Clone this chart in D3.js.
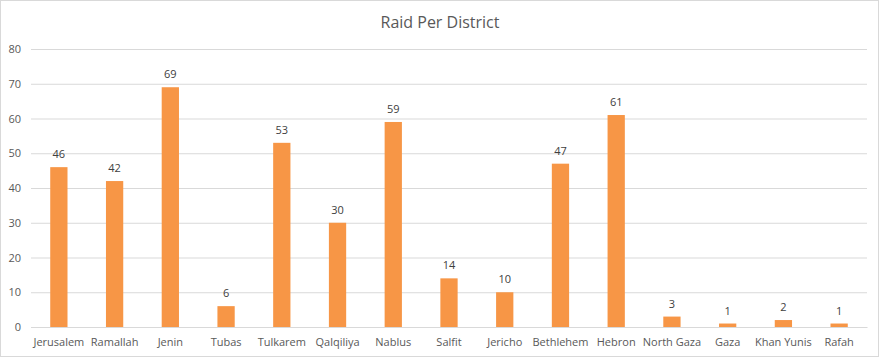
<!DOCTYPE html>
<html><head><meta charset="utf-8">
<script src="https://cdn.jsdelivr.net/npm/d3@7"></script>
<style>body{margin:0;background:#fff;}svg{display:block;}</style>
</head><body>
<script>
const categories = ["Jerusalem","Ramallah","Jenin","Tubas","Tulkarem","Qalqiliya","Nablus","Salfit","Jericho","Bethlehem","Hebron","North Gaza","Gaza","Khan Yunis","Rafah"];
const values = [46,42,69,6,53,30,59,14,10,47,61,3,1,2,1];
const yTicks = [0,10,20,30,40,50,60,70,80];
const title = "Raid Per District";

const W = 881, H = 359;
const font = "'Open Sans', 'Noto Sans', sans-serif";
const svg = d3.select("body").append("svg").attr("width", W).attr("height", H);
svg.append("rect").attr("x",0.5).attr("y",0.5).attr("width",W-3).attr("height",H-3)
  .attr("fill","#fff").attr("stroke","#d9d9d9");

const x = d3.scaleBand().domain(categories).range([31, 867]).paddingInner(0.69).paddingOuter(0.345);
const y = d3.scaleLinear().domain([0, 80]).range([327, 49]);

svg.append("text").attr("x", 440).attr("y", 27.5).attr("text-anchor","middle")
  .attr("font-family", font).attr("font-size", 16).attr("fill","#595959").text(title);

const yAxis = d3.axisLeft(y).tickValues(yTicks).tickSize(-(867-31)).tickPadding(10);
const gy = svg.append("g").attr("transform","translate(31,0)").call(yAxis);
gy.select(".domain").remove();
gy.selectAll(".tick line").attr("stroke","#d9d9d9");
gy.selectAll(".tick text").attr("font-family", font).attr("font-size", 11).attr("fill","#595959");

const xAxis = d3.axisBottom(x).tickSize(0).tickPadding(11);
const gx = svg.append("g").attr("transform","translate(0,327)").call(xAxis);
gx.select(".domain").attr("stroke","#d9d9d9");
gx.selectAll(".tick text").attr("font-family", font).attr("font-size", 11).attr("fill","#595959");

svg.append("g").selectAll("rect").data(values).join("rect")
  .attr("x",(d,i)=>x(categories[i])).attr("width",x.bandwidth())
  .attr("y",d=>y(d)).attr("height",d=>y(0)-y(d)).attr("fill","#f79646");

svg.append("g").selectAll("text").data(values).join("text")
  .attr("x",(d,i)=>x(categories[i])+x.bandwidth()/2).attr("y",d=>y(d)-9)
  .attr("text-anchor","middle").attr("font-family", font).attr("font-size", 11)
  .attr("fill","#404040").text(d=>d);
</script>
</body></html>
